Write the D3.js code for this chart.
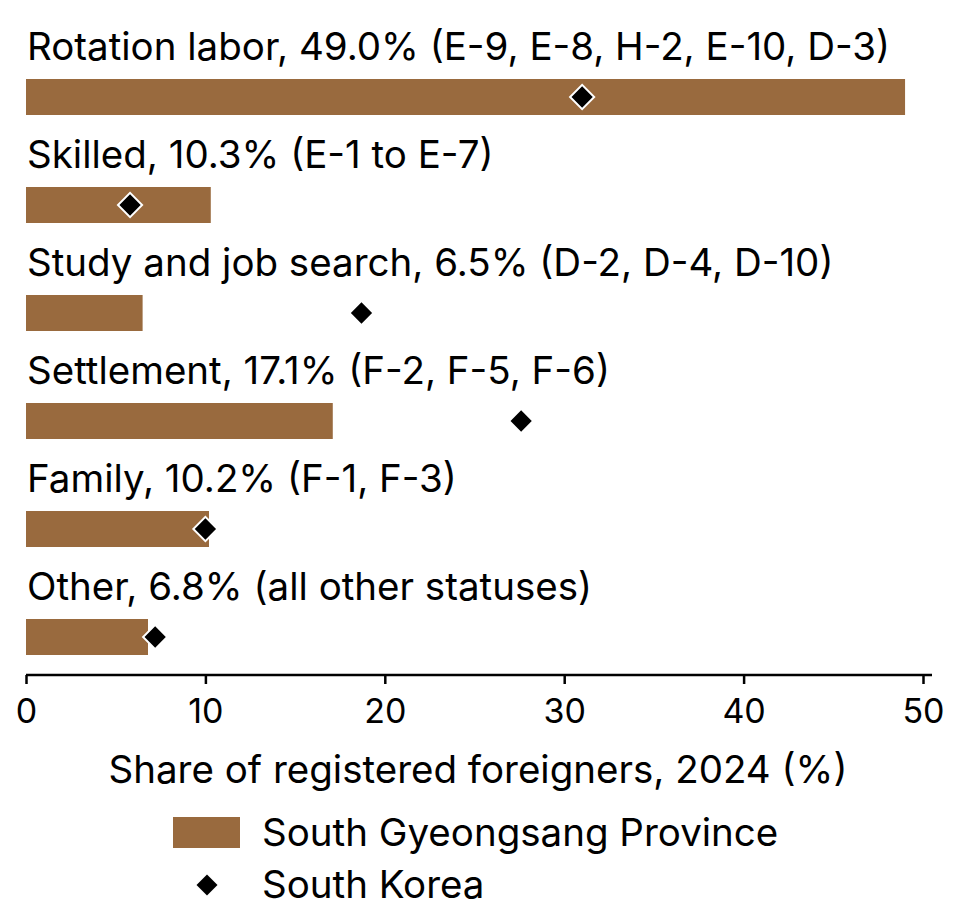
<!DOCTYPE html>
<html><head><meta charset="utf-8">
<script src="https://cdn.jsdelivr.net/npm/d3@7"></script>
<style>body{margin:0;background:#fff}text{font-family:Inter,"Noto Sans",sans-serif;fill:#000}</style>
</head><body>
<svg id="chart" width="962" height="923"></svg>
<script>
const categories = ['Rotation labor, 49.0% (E-9, E-8, H-2, E-10, D-3)', 'Skilled, 10.3% (E-1 to E-7)',
    'Study and job search, 6.5% (D-2, D-4, D-10)', 'Settlement, 17.1% (F-2, F-5, F-6)',
    'Family, 10.2% (F-1, F-3)', 'Other, 6.8% (all other statuses)'];
const provinceShare = [49.0, 10.3, 6.5, 17.1, 10.2, 6.8];
const nationalShare = [31.0, 5.8, 18.7, 27.6, 10.0, 7.2];
const xTicks = [0, 10, 20, 30, 40, 50];

const svg = d3.select('#chart');
const x = d3.scaleLinear().domain([0, 50]).range([26, 923]);
const rowStep = 108;
const barColor = '#996a3e';
const fs = 38.5;

categories.forEach((c, i) => {
    const top = 79 + i * rowStep;
    svg.append('text').attr('x', 27).attr('y', top - 19).attr('font-size', fs).text(c);
    svg.append('rect').attr('x', x(0)).attr('y', top).attr('width', x(provinceShare[i]) - x(0))
        .attr('height', 36).attr('fill', barColor);
    svg.append('path').attr('d', d3.symbol().type(d3.symbolSquare).size(290)())
        .attr('transform', `translate(${x(nationalShare[i])},${top + 18}) rotate(45)`)
        .attr('fill', '#000').attr('stroke', '#fff').attr('stroke-width', 2);
});

const axis = svg.append('g').attr('transform', 'translate(0,675)')
    .call(d3.axisBottom(x).tickValues(xTicks).tickSize(9).tickSizeOuter(0));
axis.select('.domain').attr('d', 'M26,0H932').attr('stroke-width', 2.5);
axis.selectAll('.tick line').attr('stroke-width', 2.5);
axis.selectAll('.tick text').attr('font-size', 34).attr('dy', '1.05em');

svg.append('text').attr('x', 478).attr('y', 783).attr('text-anchor', 'middle').attr('font-size', fs)
    .text('Share of registered foreigners, 2024 (%)');

svg.append('rect').attr('x', 173).attr('y', 817).attr('width', 67).attr('height', 31).attr('fill', barColor);
svg.append('text').attr('x', 262).attr('y', 846).attr('font-size', fs).text('South Gyeongsang Province');
svg.append('path').attr('d', d3.symbol().type(d3.symbolSquare).size(220)())
    .attr('transform', 'translate(207,885) rotate(45)').attr('fill', '#000');
svg.append('text').attr('x', 262).attr('y', 898).attr('font-size', fs).text('South Korea');
</script>
</body></html>
